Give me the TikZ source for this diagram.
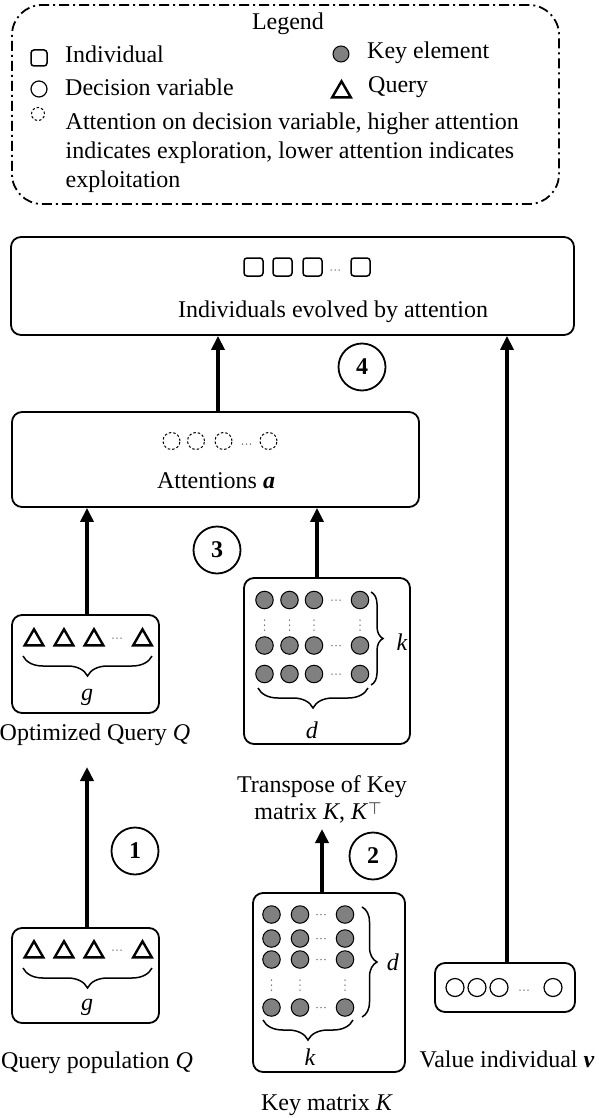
\documentclass[tikz,border=0pt]{standalone}
\usepackage{fontspec}
\setmainfont{Liberation Serif}
\usetikzlibrary{arrows.meta,decorations.pathreplacing,shapes.geometric}
\definecolor{keygray}{RGB}{128,128,128}
\definecolor{dotgray}{RGB}{90,90,90}
\newcommand\hdt[2]{\foreach \dd in {-4,0,4} {\fill[dotgray] (#1+\dd,#2) circle (0.75pt);}}
\newcommand\vdt[2]{\foreach \dd in {-5,0,5} {\fill[dotgray] (#1,#2+\dd) circle (0.75pt);}}
\begin{document}
\begin{tikzpicture}[x=1pt,y=-1pt,
  txt/.style={font=\fontsize{24}{29}\selectfont, inner sep=0pt},
  box/.style={draw, line width=1.8pt, rounded corners=10pt, inner sep=0pt},
  arr/.style={line width=3.5pt, -{Triangle[width=13pt,length=14pt]}},
  indiv/.style={draw, line width=1.5pt, rounded corners=3pt, minimum size=17pt, inner sep=0pt},
  dvar/.style={draw, circle, line width=1.2pt, minimum size=17pt, inner sep=0pt},
  attn/.style={draw, circle, dash pattern=on 2.5pt off 2pt, line width=1pt, minimum size=17pt, inner sep=0pt},
  keyel/.style={draw, circle, fill=keygray, line width=1pt, minimum size=17.5pt, inner sep=0pt},
  qtri/.style={draw, regular polygon, regular polygon sides=3, line width=2.4pt, minimum size=21.5pt, inner sep=0pt},
  brc/.style={decorate, line width=1.5pt},
  numc/.style={draw, circle, line width=1.8pt, minimum size=47pt, inner sep=0pt, font=\fontsize{24}{29}\selectfont\bfseries},
]
\useasboundingbox (0,0) rectangle (598,1118);

% ---------- Legend ----------
\node[draw, line width=1.8pt, rounded corners=30pt, dash pattern=on 10pt off 4pt on 2pt off 4pt,
      minimum width=547pt, minimum height=199pt, inner sep=0pt] (legend) at (285.5,104.5) {};
\node[txt, anchor=base] (legtitle) at (288,30) {Legend};
\node[indiv, minimum size=16pt] (lgsq) at (39,58) {};
\node[txt, anchor=base west] (lgsqt) at (65,63) {Individual};
\node[keyel, minimum size=16pt] (lgkey) at (341,54) {};
\node[txt, anchor=base west] (lgkeyt) at (367,59) {Key element};
\node[dvar, minimum size=16pt] (lgdv) at (39,89) {};
\node[txt, anchor=base west] (lgdvt) at (65,96) {Decision variable};
\node[qtri] (lgq) at (341.5,92) {};
\node[txt, anchor=base west] (lgqt) at (368,93) {Query};
\node[attn, minimum size=13pt] (lgat) at (38,114) {};
\node[txt, anchor=base west] (lgat1) at (65.5,130) {Attention on decision variable, higher attention};
\node[txt, anchor=base west] (lgat2) at (65.5,159) {indicates exploration, lower attention indicates};
\node[txt, anchor=base west] (lgat3) at (65.5,188) {exploitation};

% ---------- Top box ----------
\node[box, minimum width=563pt, minimum height=98pt] (top) at (292.5,286) {};
\foreach \x/\n in {253.5/a,282.5/b,312.5/c,360.5/d} {\node[indiv, minimum width=19pt, minimum height=18pt] (sq\n) at (\x,267) {};}
\hdt{335}{270}
\node[txt, anchor=base] (toptxt) at (333,317) {Individuals evolved by attention};

% ---------- Attentions box ----------
\node[box, minimum width=407pt, minimum height=95pt] (att) at (215.5,459.5) {};
\foreach \x/\n in {171.5/a,196/b,223.5/c,268.5/d} {\node[attn] (at\n) at (\x,441) {};}
\hdt{246.5}{444}
\node[txt, anchor=base] (atttxt) at (216,488) {Attentions \textbf{\textit{a}}};

% ---------- Optimized query box ----------
\node[box, minimum width=147pt, minimum height=98pt] (oq) at (85.5,664) {};
\foreach \x/\n in {34/a,64/b,94/c,142.5/d} {\node[qtri] (oq\n) at (\x,640) {};}
\hdt{117}{638}
\draw[brc, decoration={brace, amplitude=20pt}] (152,656) -- (23,656);
\node[txt] (oqg) at (87,697) {\textit{g}};
\node[txt, anchor=base] (oqlab) at (95,740) {Optimized Query \textit{Q}};

% ---------- Query population box ----------
\node[box, minimum width=147pt, minimum height=95pt] (qp) at (85.5,975.5) {};
\foreach \x/\n in {34/a,64/b,94/c,142.5/d} {\node[qtri] (qp\n) at (\x,952) {};}
\hdt{117}{950}
\draw[brc, decoration={brace, amplitude=20pt}] (152,968) -- (23,968);
\node[txt] (qpg) at (87,1007) {\textit{g}};
\node[txt, anchor=base] (qplab) at (97,1068) {Query population \textit{Q}};

% ---------- K transpose box ----------
\node[box, minimum width=166pt, minimum height=166pt] (kt) at (327,661) {};
\foreach \y/\r in {600/a,645.5/b,674/c} {
  \foreach \x/\c in {264.5/a,289.5/b,314/c,360/d} {\node[keyel] (kt\r\c) at (\x,\y) {};}
  \hdt{336}{\y}
}
\foreach \x in {264.5,289.5,314,360} {\vdt{\x}{625}}
\draw[brc, decoration={brace, amplitude=12pt}] (371,592) -- (371,685);
\node[txt] (ktk) at (402,642) {\textit{k}};
\draw[brc, decoration={brace, amplitude=20pt}] (368,688) -- (258,688);
\node[txt] (ktd) at (312,730) {\textit{d}};
\node[txt, anchor=base] (ktlab1) at (322,792) {Transpose of Key};
\node[txt, anchor=base] (ktlab2) at (318,819) {matrix \textit{K}, \textit{K}\raisebox{5pt}{\fontsize{16}{16}\selectfont$\top$}};

% ---------- Key matrix box ----------
\node[box, minimum width=152pt, minimum height=179pt] (km) at (329,982.5) {};
\foreach \y/\r in {914.5/a,938.5/b,959.5/c,1007.5/d} {
  \foreach \x/\c in {271.5/a,300/b,345/c} {\node[keyel] (km\r\c) at (\x,\y) {};}
  \hdt{321}{\y}
}
\foreach \x in {271.5,300,345} {\vdt{\x}{985}}
\draw[brc, decoration={brace, amplitude=15pt}] (362,907) -- (362,1017);
\node[txt] (kmd) at (393,962) {\textit{d}};
\draw[brc, decoration={brace, amplitude=20pt}] (353,1020) -- (263,1020);
\node[txt] (kmk) at (310,1057) {\textit{k}};
\node[txt, anchor=base] (kmlab) at (327,1110) {Key matrix \textit{K}};

% ---------- Value box ----------
\node[box, minimum width=140pt, minimum height=49pt] (val) at (505,987.5) {};
\foreach \x/\n in {455/a,477/b,499/c,553/d} {\node[dvar, minimum size=18pt] (v\n) at (\x,987.5) {};}
\hdt{524}{990}
\node[txt, anchor=base] (vallab) at (507,1067) {Value individual \textbf{\textit{v}}};

% ---------- numbered circles ----------
\node[numc] (n1) at (135,851) {1};
\node[numc] (n2) at (373,856) {2};
\node[numc] (n3) at (217,550) {3};
\node[numc] (n4) at (362,367) {4};

% ---------- arrows ----------
\coordinate (oqtip) at (87,767);
\coordinate (kttip) at (322,829);
\draw[arr] (qp.north -| oqtip) -- (oqtip);
\draw[arr] (km.north -| kttip) -- (kttip);
\draw[arr] (oq.north -| oqtip) -- (att.south -| oqtip);
\draw[arr] ([xshift=-10pt]kt.north) -- ([xshift=101.5pt]att.south);
\draw[arr] ([xshift=2.5pt]att.north) -- ([xshift=-74.5pt]top.south);
\draw[arr] ([xshift=2pt]val.north) -- ([xshift=214.5pt]top.south);
\end{tikzpicture}
\end{document}
